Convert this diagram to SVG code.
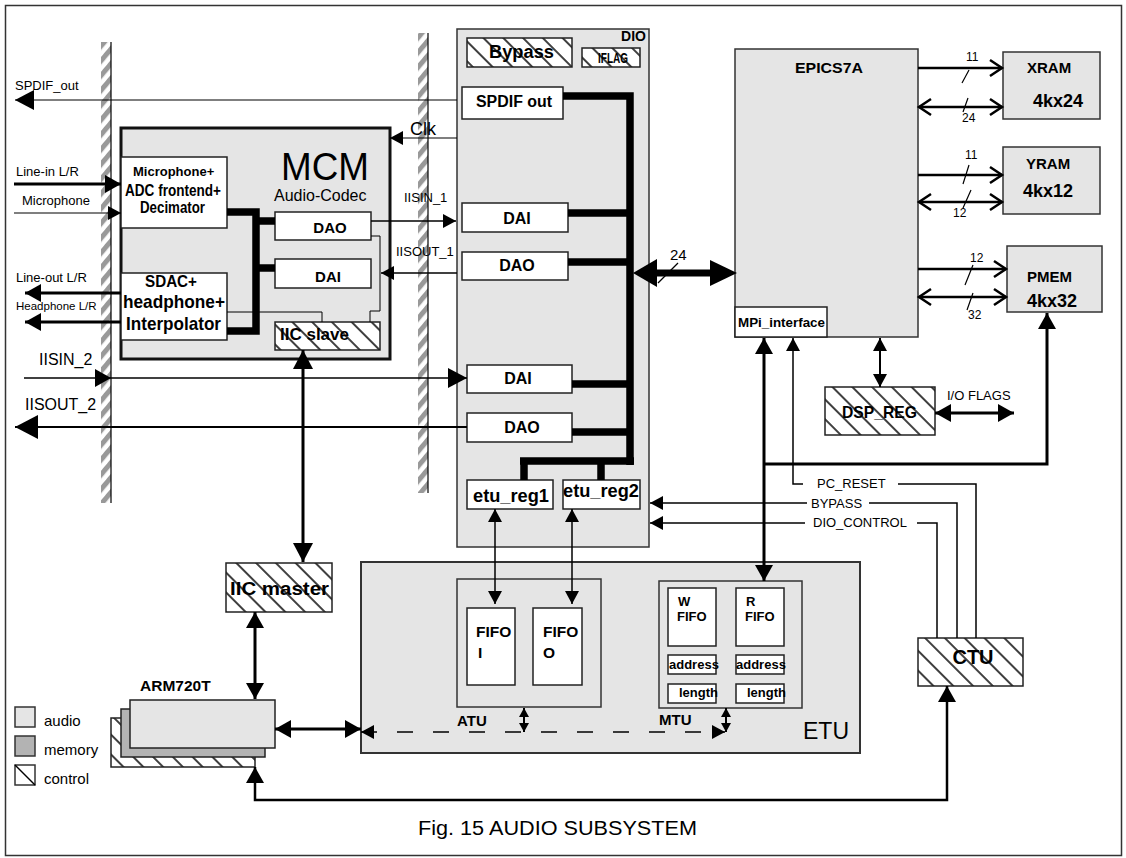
<svg xmlns="http://www.w3.org/2000/svg" width="1126" height="858" viewBox="0 0 1126 858">
<style>
text{font-family:"Liberation Sans",Arial,Helvetica,sans-serif;fill:#000}
.b{font-weight:bold}
.g{fill:#e5e5e5;stroke:#333;stroke-width:1.5}
.w{fill:#fff;stroke:#222;stroke-width:1.5}
.h{fill:url(#hatch);stroke:#222;stroke-width:1.5}
.ln{fill:none;stroke:#000}
.bus{fill:none;stroke:#000;stroke-width:7.5}
</style>
<defs>
<pattern id="hatch" patternUnits="userSpaceOnUse" width="14" height="14" patternTransform="rotate(-45)">
<rect width="14" height="14" fill="#fff"/><line x1="7" y1="0" x2="7" y2="14" stroke="#000" stroke-width="1.5"/>
</pattern>
<pattern id="bars" patternUnits="userSpaceOnUse" width="9.5" height="9.5" patternTransform="rotate(40)">
<rect width="9.5" height="9.5" fill="#fff"/><rect width="5" height="9.5" fill="#999"/>
</pattern>
<marker id="m9" viewBox="0 0 9 10" refX="9" refY="5" markerWidth="9" markerHeight="10" markerUnits="userSpaceOnUse" orient="auto-start-reverse"><path d="M0,0L9,5L0,10z"/></marker>
<marker id="m13" viewBox="0 0 13 14" refX="13" refY="7" markerWidth="13" markerHeight="14" markerUnits="userSpaceOnUse" orient="auto-start-reverse"><path d="M0,0L13,7L0,14z"/></marker>
<marker id="m16" viewBox="0 0 16 18" refX="16" refY="9" markerWidth="16" markerHeight="18" markerUnits="userSpaceOnUse" orient="auto-start-reverse"><path d="M0,0L16,9L0,18z"/></marker>
<marker id="m19" viewBox="0 0 19 20" refX="19" refY="10" markerWidth="19" markerHeight="20" markerUnits="userSpaceOnUse" orient="auto-start-reverse"><path d="M0,0L19,10L0,20z"/></marker>
<marker id="m23" viewBox="0 0 23 24" refX="23" refY="12" markerWidth="23" markerHeight="24" markerUnits="userSpaceOnUse" orient="auto-start-reverse"><path d="M0,0L23,12L0,24z"/></marker>
<marker id="ch" viewBox="0 0 14 18" refX="13" refY="9" markerWidth="14" markerHeight="18" markerUnits="userSpaceOnUse" orient="auto-start-reverse" overflow="visible"><path d="M1,1L13,9L1,17" fill="none" stroke="#000" stroke-width="2.5"/></marker>
</defs>

<rect x="5.5" y="5.5" width="1116" height="850" fill="#fff" stroke="#333" stroke-width="1.5"/>

<!-- hatched boundary bars -->
<g id="bars">
<rect x="101" y="42" width="10" height="461" fill="url(#bars)"/>
<line x1="111" y1="42" x2="111" y2="503" stroke="#000" stroke-width="1.2"/>
<rect x="418" y="33" width="10" height="460" fill="url(#bars)"/>
<line x1="428" y1="33" x2="428" y2="493" stroke="#000" stroke-width="1.2"/>
</g>

<g id="MCM">
<rect x="121" y="128" width="269" height="231" fill="#e5e5e5" stroke="#111" stroke-width="3"/>
<text x="281" y="180" font-size="38" textLength="88" lengthAdjust="spacingAndGlyphs">MCM</text>
<text x="274" y="201" font-size="16">Audio-Codec</text>
</g>
<g id="ADC">
<rect class="w" x="121" y="157" width="106" height="71"/>
<text class="b" x="133" y="176" font-size="13">Microphone+</text>
<text class="b" x="125" y="196" font-size="17" textLength="96" lengthAdjust="spacingAndGlyphs">ADC frontend+</text>
<text class="b" x="140" y="213" font-size="17" textLength="65" lengthAdjust="spacingAndGlyphs">Decimator</text>
</g>
<g id="SDAC">
<rect class="w" x="121" y="273" width="106" height="67"/>
<text class="b" x="145" y="287" font-size="17" textLength="52" lengthAdjust="spacingAndGlyphs">SDAC+</text>
<text class="b" x="123" y="308" font-size="19" textLength="102" lengthAdjust="spacingAndGlyphs">headphone+</text>
<text class="b" x="126" y="330" font-size="19" textLength="95" lengthAdjust="spacingAndGlyphs">Interpolator</text>
</g>
<g id="MCM_DAO">
<rect class="w" x="275" y="212" width="96" height="28"/>
<text class="b" x="330" y="233" font-size="15" text-anchor="middle">DAO</text>
</g>
<g id="MCM_DAI">
<rect class="w" x="275" y="259" width="96" height="29"/>
<text class="b" x="328" y="282" font-size="15" text-anchor="middle">DAI</text>
</g>
<g id="IIC_slave">
<rect class="h" x="275" y="322" width="105" height="28"/>
<text class="b" x="280" y="340" font-size="17" textLength="69" lengthAdjust="spacingAndGlyphs">IIC slave</text>
</g>

<g id="DIO">
<rect class="g" x="457" y="29" width="192" height="518"/>
<text class="b" x="646" y="41" font-size="14" text-anchor="end">DIO</text>
</g>
<g id="Bypass">
<rect class="h" x="467" y="38" width="105" height="29"/>
<text class="b" x="489" y="58" font-size="18" textLength="65" lengthAdjust="spacingAndGlyphs">Bypass</text>
</g>
<g id="IFLAG">
<rect class="h" x="582" y="48" width="58" height="19"/>
<text class="b" x="598" y="63" font-size="15" textLength="30" lengthAdjust="spacingAndGlyphs">IFLAG</text>
</g>
<g id="SPDIF_out">
<rect class="w" x="462" y="87" width="101" height="32"/>
<text class="b" x="476" y="107" font-size="16" textLength="76" lengthAdjust="spacingAndGlyphs">SPDIF out</text>
</g>
<g id="DIO_DAI1">
<rect class="w" x="462" y="203" width="106" height="29"/>
<text class="b" x="517" y="224" font-size="16" text-anchor="middle">DAI</text>
</g>
<g id="DIO_DAO1">
<rect class="w" x="462" y="252" width="106" height="28"/>
<text class="b" x="517" y="271" font-size="16" text-anchor="middle">DAO</text>
</g>
<g id="DIO_DAI2">
<rect class="w" x="467" y="365" width="105" height="28"/>
<text class="b" x="518" y="384" font-size="16" text-anchor="middle">DAI</text>
</g>
<g id="DIO_DAO2">
<rect class="w" x="467" y="413" width="105" height="29"/>
<text class="b" x="522" y="433" font-size="16" text-anchor="middle">DAO</text>
</g>
<g id="etu_reg1">
<rect class="w" x="467" y="480" width="86" height="29"/>
<text class="b" x="473" y="502" font-size="17.5" textLength="76" lengthAdjust="spacingAndGlyphs">etu_reg1</text>
</g>
<g id="etu_reg2">
<rect class="w" x="563" y="480" width="77" height="29"/>
<text class="b" x="563" y="497" font-size="17.5" textLength="76" lengthAdjust="spacingAndGlyphs">etu_reg2</text>
</g>

<g id="EPICS7A">
<rect class="g" x="735" y="49" width="183" height="288"/>
<text class="b" x="795" y="73" font-size="15" textLength="68" lengthAdjust="spacingAndGlyphs">EPICS7A</text>
</g>
<g id="MPi_interface">
<rect class="w" x="735" y="307" width="92" height="30"/>
<text class="b" x="738" y="327" font-size="13.5" textLength="87" lengthAdjust="spacingAndGlyphs">MPi_interface</text>
</g>
<g id="XRAM">
<rect class="g" x="1003" y="52" width="97" height="67"/>
<text class="b" x="1027" y="73" font-size="15">XRAM</text>
<text class="b" x="1033" y="107" font-size="18">4kx24</text>
</g>
<g id="YRAM">
<rect class="g" x="1003" y="147" width="97" height="67"/>
<text class="b" x="1026" y="169" font-size="15">YRAM</text>
<text class="b" x="1023" y="197" font-size="18">4kx12</text>
</g>
<g id="PMEM">
<rect class="g" x="1007" y="246" width="95" height="66"/>
<text class="b" x="1027" y="282" font-size="15">PMEM</text>
<text class="b" x="1027" y="307" font-size="18">4kx32</text>
</g>
<g id="DSP_REG">
<rect class="h" x="825" y="387" width="110" height="48"/>
<text class="b" x="842" y="418" font-size="17" textLength="75" lengthAdjust="spacingAndGlyphs">DSP_REG</text>
</g>
<g id="CTU">
<rect class="h" x="918" y="638" width="105" height="48"/>
<text class="b" x="973" y="664" font-size="20" text-anchor="middle">CTU</text>
</g>
<g id="IIC_master">
<rect class="h" x="226" y="563" width="106" height="49"/>
<text class="b" x="230" y="595" font-size="18" textLength="99" lengthAdjust="spacingAndGlyphs">IIC master</text>
</g>

<g id="ETU">
<rect x="361" y="562" width="499" height="191" fill="#e5e5e5" stroke="#333" stroke-width="2"/>
<text x="803" y="739" font-size="23">ETU</text>
</g>
<g id="ATU">
<rect x="457" y="579" width="144" height="128" fill="none" stroke="#333" stroke-width="1.5"/>
<text class="b" x="457" y="726" font-size="15">ATU</text>
</g>
<g id="FIFO_I">
<rect class="w" x="467" y="608" width="48" height="77"/>
<text class="b" x="476" y="637" font-size="15.5">FIFO</text>
<text class="b" x="478" y="658" font-size="15.5">I</text>
</g>
<g id="FIFO_O">
<rect class="w" x="533" y="608" width="49" height="77"/>
<text class="b" x="543" y="637" font-size="15.5">FIFO</text>
<text class="b" x="543" y="658" font-size="15.5">O</text>
</g>
<g id="MTU">
<rect x="659" y="581" width="143" height="127" fill="none" stroke="#333" stroke-width="1.5"/>
<text class="b" x="659" y="725" font-size="15">MTU</text>
</g>
<g id="W_FIFO">
<rect class="w" x="668" y="588" width="48" height="58"/>
<text class="b" x="678" y="606" font-size="13">W</text>
<text class="b" x="677" y="621" font-size="13">FIFO</text>
</g>
<g id="R_FIFO">
<rect class="w" x="736" y="588" width="48" height="58"/>
<text class="b" x="746" y="606" font-size="13">R</text>
<text class="b" x="745" y="621" font-size="13">FIFO</text>
</g>
<g id="W_address">
<rect class="w" x="668" y="655" width="48" height="19"/>
<text class="b" x="669" y="669" font-size="13">address</text>
</g>
<g id="R_address">
<rect class="w" x="736" y="655" width="48" height="19"/>
<text class="b" x="736" y="669" font-size="13">address</text>
</g>
<g id="W_length">
<rect class="w" x="668" y="684" width="48" height="19"/>
<text class="b" x="679" y="697" font-size="13">length</text>
</g>
<g id="R_length">
<rect class="w" x="736" y="684" width="48" height="19"/>
<text class="b" x="747" y="697" font-size="13">length</text>
</g>

<g id="ARM720T">
<rect x="111" y="718" width="144" height="49" fill="url(#hatch)" stroke="#222" stroke-width="1.5"/>
<rect x="121" y="709" width="144" height="48" fill="#b3b3b3" stroke="#222" stroke-width="1.5"/>
<rect x="130" y="700" width="145" height="48" fill="#e5e5e5" stroke="#222" stroke-width="1.5"/>
<text class="b" x="140" y="691" font-size="15.5">ARM720T</text>
</g>

<g id="legend">
<rect x="15" y="707" width="20" height="20" fill="#e5e5e5" stroke="#333" stroke-width="1.5"/>
<rect x="15" y="736" width="20" height="20" fill="#b3b3b3" stroke="#333" stroke-width="1.5"/>
<rect x="15" y="765" width="20" height="20" fill="#fff" stroke="#333" stroke-width="1.5"/>
<line x1="15" y1="765" x2="35" y2="785" stroke="#000" stroke-width="1.5"/>
<text x="44" y="726" font-size="15">audio</text>
<text x="44" y="755" font-size="15">memory</text>
<text x="44" y="784" font-size="15">control</text>
</g>

<g id="connectors">
<!-- MCM internal bus -->
<path class="bus" d="M227,212H256V331H227"/>
<path class="bus" d="M256,221H275M256,268H275"/>
<path class="ln" stroke-width="1" d="M371,236H380V311H370V322M227,312H322V322"/>
<!-- external audio I/O -->
<path class="ln" stroke-width="1.2" d="M457,100H15" marker-end="url(#m19)"/>
<path class="ln" stroke-width="1.2" d="M457,138H390" marker-end="url(#m13)"/>
<path class="ln" stroke-width="3" d="M14,184H121" marker-end="url(#m16)"/>
<path class="ln" stroke-width="1.2" d="M14,213H121" marker-end="url(#m13)"/>
<path class="ln" stroke-width="3" d="M121,293H25" marker-end="url(#m16)"/>
<path class="ln" stroke-width="3" d="M121,322H25" marker-end="url(#m16)"/>
<path class="ln" stroke-width="1.5" d="M371,221H456" marker-end="url(#m13)"/>
<path class="ln" stroke-width="1.5" d="M457,273H381" marker-end="url(#m13)"/>
<path class="ln" stroke-width="1.5" d="M24,378H111" marker-end="url(#m16)"/>
<path class="ln" stroke-width="1.5" d="M111,378H467" marker-end="url(#m19)"/>
<path class="ln" stroke-width="2" d="M467,427H15" marker-end="url(#m23)"/>
<!-- DIO internal bus -->
<path class="bus" stroke-width="8" d="M563,96H630V465"/>
<path class="bus" stroke-width="8" d="M568,213H630M568,262H630M572,384H630M572,432H630M520,461H634M524,461V480M601,461V480"/>
<!-- 24 bit bus -->
<path d="M655,269.5H711V276.5H655z"/>
<path d="M633,273L657,259V287z"/>
<path d="M737,273L710,260V286z"/>
<line x1="658" y1="283" x2="678" y2="263" stroke="#000" stroke-width="1.2"/>
<!-- memory buses -->
<path class="ln" stroke-width="2.5" d="M918,68H1002" marker-end="url(#ch)"/>
<path class="ln" stroke-width="2.5" d="M919,107H1002" marker-start="url(#ch)" marker-end="url(#ch)"/>
<path class="ln" stroke-width="2.5" d="M918,175H1002" marker-end="url(#ch)"/>
<path class="ln" stroke-width="2.5" d="M919,202H1002" marker-start="url(#ch)" marker-end="url(#ch)"/>
<path class="ln" stroke-width="2.5" d="M918,269H1006" marker-end="url(#ch)"/>
<path class="ln" stroke-width="2.5" d="M919,297H1006" marker-start="url(#ch)" marker-end="url(#ch)"/>
<path class="ln" stroke-width="1.2" d="M962,83L969,70M963,112L968,98M963,184L969,165M963,208L971,190M965,285L973,265M967,310L973,293"/>
<!-- EPICS side -->
<path class="ln" stroke-width="2" d="M880,338V387" marker-start="url(#m13)" marker-end="url(#m13)"/>
<path class="ln" stroke-width="3" d="M935,413H1014" marker-start="url(#m16)" marker-end="url(#m16)"/>
<path class="ln" stroke-width="3" d="M764,338V581" marker-start="url(#m16)" marker-end="url(#m16)"/>
<path class="ln" stroke-width="3" d="M764,464H1047V313" marker-end="url(#m16)"/>
<path class="ln" stroke-width="1.5" d="M976,638V484H898"/>
<path class="ln" stroke-width="1.5" d="M803,484H793V338" marker-end="url(#m13)"/>
<path class="ln" stroke-width="1.5" d="M957,638V503H869"/>
<path class="ln" stroke-width="1.5" d="M807,503H650" marker-end="url(#m13)"/>
<path class="ln" stroke-width="1.5" d="M937,638V523H917"/>
<path class="ln" stroke-width="1.5" d="M805,523H650" marker-end="url(#m13)"/>
<!-- ETU side -->
<path class="ln" stroke-width="1.5" d="M495,509V604" marker-start="url(#m13)" marker-end="url(#m13)"/>
<path class="ln" stroke-width="1.5" d="M572,509V604" marker-start="url(#m13)" marker-end="url(#m13)"/>
<path class="ln" stroke-width="1.5" stroke-dasharray="16 20" d="M361,732H725" marker-start="url(#m13)" marker-end="url(#m13)"/>
<path class="ln" stroke-width="2" d="M524,708V732" marker-start="url(#m9)" marker-end="url(#m9)"/>
<path class="ln" stroke-width="2" d="M726,708V732" marker-start="url(#m9)" marker-end="url(#m9)"/>
<!-- control -->
<path class="ln" stroke-width="3" d="M303,350V562" marker-start="url(#m19)" marker-end="url(#m19)"/>
<path class="ln" stroke-width="3" d="M255,612V699" marker-start="url(#m16)" marker-end="url(#m16)"/>
<path class="ln" stroke-width="3" d="M275,729H361" marker-start="url(#m16)" marker-end="url(#m16)"/>
<path class="ln" stroke-width="2.5" d="M255,767V800H947V686" marker-start="url(#m16)" marker-end="url(#m16)"/>
</g>

<g id="labels">
<text x="15" y="90" font-size="13">SPDIF_out</text>
<text x="410" y="135" font-size="18">Clk</text>
<text x="16" y="176" font-size="13">Line-in L/R</text>
<text x="22" y="205" font-size="13">Microphone</text>
<text x="16" y="282" font-size="13">Line-out L/R</text>
<text x="16" y="310" font-size="11.5">Headphone L/R</text>
<text x="404" y="202" font-size="13">IISIN_1</text>
<text x="396" y="256" font-size="13">IISOUT_1</text>
<text x="39" y="365" font-size="16">IISIN_2</text>
<text x="25" y="410" font-size="16">IISOUT_2</text>
<text x="670" y="260" font-size="15">24</text>
<text x="966" y="61" font-size="12">11</text>
<text x="962" y="122" font-size="12">24</text>
<text x="965" y="159" font-size="12">11</text>
<text x="953" y="217" font-size="12">12</text>
<text x="970" y="262" font-size="12">12</text>
<text x="968" y="319" font-size="12">32</text>
<text x="947" y="400" font-size="13">I/O FLAGS</text>
<text x="817" y="488" font-size="13">PC_RESET</text>
<text x="811" y="508" font-size="13">BYPASS</text>
<text x="813" y="527" font-size="13">DIO_CONTROL</text>
<text x="418" y="835" font-size="20.5" textLength="279" lengthAdjust="spacingAndGlyphs">Fig.  15 AUDIO SUBSYSTEM</text>
</g>
</svg>
